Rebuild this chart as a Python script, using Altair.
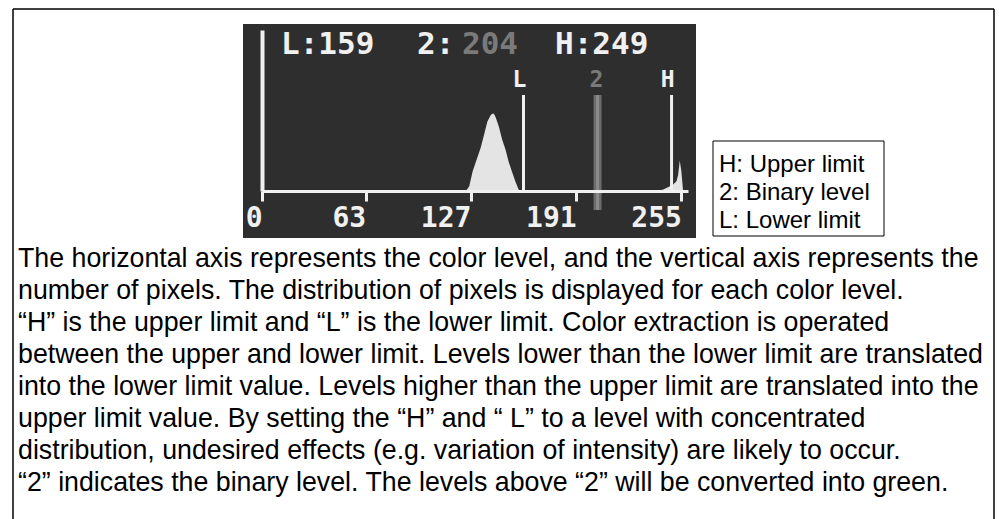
import altair as alt
import pandas as pd

# Histogram of pixel counts per colour level (0-255)
hist_levels = [124, 126, 128, 130, 133, 135, 137, 139, 140, 141, 142, 144, 146, 148,
               150, 152, 154, 156, 157, 240, 244, 248, 250, 252, 253, 254, 255, 256]
hist_counts = [0, 3, 12, 18, 27, 35, 43, 47, 48, 48, 46, 40, 32, 26,
               18, 12, 6, 1, 0, 0, 1, 3, 4, 6, 10, 19, 12, 0]

# Threshold settings
lower_limit = 159
binary_level = 204
upper_limit = 249

# Axis tick labels
tick_values = [0, 63, 127, 191, 255]

legend_lines = ["H: Upper limit", "2: Binary level", "L: Lower limit"]

description_lines = [
    "The horizontal axis represents the color level, and the vertical axis represents the",
    "number of pixels. The distribution of pixels is displayed for each color level.",
    "\u201cH\u201d is the upper limit and \u201cL\u201d is the lower limit. Color extraction is operated",
    "between the upper and lower limit. Levels lower than the lower limit are translated",
    "into the lower limit value. Levels higher than the upper limit are translated into the",
    "upper limit value. By setting the \u201cH\u201d and \u201c L\u201d to a level with concentrated",
    "distribution, undesired effects (e.g. variation of intensity) are likely to occur.",
    "\u201c2\u201d indicates the binary level. The levels above \u201c2\u201d will be converted into green.",
]

# ---- layout (pixels relative to the histogram plot origin) ----
OX, OY = 262, 30          # plot origin inside the page
PW, PH = 426, 161         # plot width / height
W, H = 999, 519

WHITE = "#f0f0f0"
GRAY = "#7a7a7a"
PANEL = "#2e2e2e"
MONO = "DejaVu Sans Mono"
SANS = "Liberation Sans"

one = pd.DataFrame({"k": [0]})


def px(x):
    return x - OX


def py(y):
    return y - OY


x_scale = alt.Scale(domain=[0, 259], nice=False, zero=True)
y_scale = alt.Scale(domain=[0, 100], nice=False)

# Page frame
frame = [
    alt.Chart(one).mark_rule(color="black", strokeWidth=1.5).encode(
        x=alt.value(px(13)), y=alt.value(py(9)), y2=alt.value(py(530))),
    alt.Chart(one).mark_rule(color="black", strokeWidth=1.5).encode(
        x=alt.value(px(13)), x2=alt.value(px(994)), y=alt.value(py(9))),
    alt.Chart(one).mark_rule(color="black", strokeWidth=1.5).encode(
        x=alt.value(px(994)), y=alt.value(py(9)), y2=alt.value(py(530))),
]

# Dark monitor panel behind the histogram
panel = alt.Chart(one).mark_rect(color=PANEL).encode(
    x=alt.value(px(243)), x2=alt.value(px(696)),
    y=alt.value(py(24)), y2=alt.value(py(238)),
)

hist_df = pd.DataFrame({"level": hist_levels, "count": hist_counts})
hist = alt.Chart(hist_df).mark_area(color="#e4e4e4", interpolate="linear").encode(
    x=alt.X("level:Q", scale=x_scale,
            axis=alt.Axis(values=tick_values, title=None, grid=False, zindex=1,
                          domainColor=WHITE, domainWidth=3,
                          tickColor=WHITE, tickWidth=3, tickSize=10,
                          labelFont=MONO, labelFontWeight="bold", labelFontSize=28,
                          labelColor=WHITE, labelAlign="right", labelBaseline="top",
                          labelPadding=3, labelOverlap=False, labelFlush=False,
                          labelBound=False)),
    y=alt.Y("count:Q", scale=y_scale,
            axis=alt.Axis(title=None, grid=False, ticks=False, labels=False, zindex=1,
                          domainColor=WHITE, domainWidth=4)),
)

# Threshold markers
lh_df = pd.DataFrame({"level": [lower_limit, upper_limit], "name": ["L", "H"]})
bin_df = pd.DataFrame({"level": [binary_level], "name": ["2"]})

lh_rules = alt.Chart(lh_df).mark_rule(color=WHITE, strokeWidth=3).encode(
    x=alt.X("level:Q", scale=x_scale), y=alt.value(py(95)), y2=alt.value(py(192)))
bin_rule = alt.Chart(bin_df).mark_rule(color="#6c6c6c", strokeWidth=8).encode(
    x=alt.X("level:Q", scale=x_scale), y=alt.value(py(95)), y2=alt.value(py(210)))
bin_rule_core = alt.Chart(bin_df).mark_rule(color="#8a8a8a", strokeWidth=3).encode(
    x=alt.X("level:Q", scale=x_scale), y=alt.value(py(95)), y2=alt.value(py(210)))

lh_labels = alt.Chart(lh_df).mark_text(
    font=MONO, fontWeight="bold", fontSize=23, color=WHITE,
    baseline="alphabetic", align="center", dx=-4).encode(
    x=alt.X("level:Q", scale=x_scale), y=alt.value(py(87)), text="name:N")
bin_label = alt.Chart(bin_df).mark_text(
    font=MONO, fontWeight="bold", fontSize=23, color=GRAY,
    baseline="alphabetic", align="center", dx=-1).encode(
    x=alt.X("level:Q", scale=x_scale), y=alt.value(py(87)), text="name:N")

# Readout line at the top of the panel
header_items = [
    (f"L:{lower_limit}", 281, WHITE),
    ("2:", 417, WHITE),
    (f"{binary_level}", 462, GRAY),
    (f"H:{upper_limit}", 555, WHITE),
]
header = [
    alt.Chart(pd.DataFrame({"t": [t]})).mark_text(
        font=MONO, fontWeight="bold", fontSize=31, color=c,
        align="left", baseline="alphabetic").encode(
        x=alt.value(px(x)), y=alt.value(py(54)), text="t:N")
    for t, x, c in header_items
]

# Legend box
legend_box = alt.Chart(one).mark_rect(fill="white", stroke="black", strokeWidth=1).encode(
    x=alt.value(px(713)), x2=alt.value(px(884)),
    y=alt.value(py(141)), y2=alt.value(py(236)),
)
legend_text = [
    alt.Chart(pd.DataFrame({"t": [t]})).mark_text(
        font=SANS, fontSize=24, color="black", align="left", baseline="alphabetic").encode(
        x=alt.value(px(719)), y=alt.value(py(172 + 28 * i)), text="t:N")
    for i, t in enumerate(legend_lines)
]

# Explanatory paragraph
paragraph = [
    alt.Chart(pd.DataFrame({"t": [t]})).mark_text(
        font=SANS, fontSize=26.75, color="black", align="left", baseline="alphabetic").encode(
        x=alt.value(px(18)), y=alt.value(py(267 + 32 * i)), text="t:N")
    for i, t in enumerate(description_lines)
]

chart = alt.layer(
    *frame, panel, hist, bin_rule, bin_rule_core, lh_rules, lh_labels, bin_label,
    *header, legend_box, *legend_text, *paragraph,
).properties(
    width=PW, height=PH,
    autosize=alt.AutoSizeParams(type="none"),
    padding={"left": OX, "top": OY, "right": W - OX - PW, "bottom": H - OY - PH},
    background="white",
).configure_view(stroke=None)

chart.save("out.html", embed_options={"renderer": "svg", "actions": False})
